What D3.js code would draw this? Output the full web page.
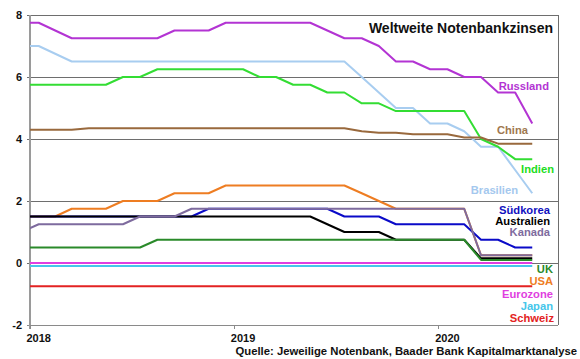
<!DOCTYPE html>
<html><head><meta charset="utf-8">
<script src="https://cdn.jsdelivr.net/npm/d3@7"></script>
<style>
body{margin:0;background:#fff}
svg{display:block;font-family:"Liberation Sans",Arial,sans-serif;font-weight:bold}
</style>
</head><body>
<svg id="c" width="580" height="359"></svg>
<script>
// ---- data (month-end values, Dec 2017 .. Jun 2020) ----
const months = ["2017-12","2018-01","2018-02","2018-03","2018-04","2018-05","2018-06","2018-07","2018-08","2018-09","2018-10","2018-11",
  "2018-12","2019-01","2019-02","2019-03","2019-04","2019-05","2019-06","2019-07","2019-08","2019-09","2019-10","2019-11",
  "2019-12","2020-01","2020-02","2020-03","2020-04","2020-05","2020-06"];
const russland  = [7.75,7.75,7.5,7.25,7.25,7.25,7.25,7.25,7.25,7.5,7.5,7.5,7.75,7.75,7.75,7.75,7.75,7.75,7.5,7.25,7.25,7.0,6.5,6.5,6.25,6.25,6.0,6.0,5.5,5.5,4.5];
const brasilien = [7.0,7.0,6.75,6.5,6.5,6.5,6.5,6.5,6.5,6.5,6.5,6.5,6.5,6.5,6.5,6.5,6.5,6.5,6.5,6.5,6.0,5.5,5.0,5.0,4.5,4.5,4.25,3.75,3.75,3.0,2.25];
const indien    = [5.75,5.75,5.75,5.75,5.75,5.75,6.0,6.0,6.25,6.25,6.25,6.25,6.25,6.25,6.0,6.0,5.75,5.75,5.5,5.5,5.15,5.15,4.9,4.9,4.9,4.9,4.9,4.0,3.75,3.35,3.35];
const china     = [4.3,4.3,4.3,4.3,4.35,4.35,4.35,4.35,4.35,4.35,4.35,4.35,4.35,4.35,4.35,4.35,4.35,4.35,4.35,4.35,4.25,4.2,4.2,4.15,4.15,4.15,4.05,4.05,3.85,3.85,3.85];
const usa       = [1.5,1.5,1.5,1.75,1.75,1.75,2.0,2.0,2.0,2.25,2.25,2.25,2.5,2.5,2.5,2.5,2.5,2.5,2.5,2.5,2.25,2.0,1.75,1.75,1.75,1.75,1.75,0.25,0.25,0.25,0.25];
const suedkorea = [1.5,1.5,1.5,1.5,1.5,1.5,1.5,1.5,1.5,1.5,1.5,1.75,1.75,1.75,1.75,1.75,1.75,1.75,1.75,1.5,1.5,1.5,1.25,1.25,1.25,1.25,1.25,0.75,0.75,0.5,0.5];
const australien= [1.5,1.5,1.5,1.5,1.5,1.5,1.5,1.5,1.5,1.5,1.5,1.5,1.5,1.5,1.5,1.5,1.5,1.5,1.25,1.0,1.0,1.0,0.75,0.75,0.75,0.75,0.75,0.15,0.15,0.15,0.15];
const kanada    = [1.0,1.25,1.25,1.25,1.25,1.25,1.25,1.5,1.5,1.5,1.75,1.75,1.75,1.75,1.75,1.75,1.75,1.75,1.75,1.75,1.75,1.75,1.75,1.75,1.75,1.75,1.75,0.25,0.25,0.25,0.25];
const uk        = [0.5,0.5,0.5,0.5,0.5,0.5,0.5,0.5,0.75,0.75,0.75,0.75,0.75,0.75,0.75,0.75,0.75,0.75,0.75,0.75,0.75,0.75,0.75,0.75,0.75,0.75,0.75,0.1,0.1,0.1,0.1];
const schweiz   = months.map(() => -0.75);
const japan     = months.map(() => -0.1);
const eurozone  = months.map(() => 0);
const yTicks = [-2,0,2,4,6,8];
const xTickYears = ["2018","2019","2020"];
const title = "Weltweite Notenbankzinsen";
const source = "Quelle: Jeweilige Notenbank, Baader Bank Kapitalmarktanalyse";

// ---- series (draw order bottom -> top) ----
const series = [
  {name:"Russland",   values:russland,   color:"#b334d3"},
  {name:"Brasilien",  values:brasilien,  color:"#a8cdf0"},
  {name:"Indien",     values:indien,     color:"#33dd33"},
  {name:"China",      values:china,      color:"#99693d"},
  {name:"USA",        values:usa,        color:"#ee7d22"},
  {name:"Südkorea",   values:suedkorea,  color:"#0a0ac8"},
  {name:"Australien", values:australien, color:"#000000"},
  {name:"UK",         values:uk,         color:"#2a8a2a"},
  {name:"Kanada",     values:kanada,     color:"#7e6b9e"},
  {name:"Schweiz",    values:schweiz,    color:"#e32222"},
  {name:"Japan",      values:japan,      color:"#45c6ea"},
  {name:"Eurozone",   values:eurozone,   color:"#e03ee0"}
];

// ---- label layout (pixel positions of legend-like labels) ----
const labelLayout = {
  "Russland":[549,89.5,"#b334d3"], "China":[528,134,"#a07850"], "Indien":[554,173.3,"#22dd22"],
  "Brasilien":[518,194,"#a4c8ee"], "Südkorea":[550,213.5,"#1010c0"], "Australien":[550,224.5,"#000"],
  "Kanada":[550,235.5,"#7e6b9e"], "UK":[553,273.3,"#2a8a2a"], "USA":[553,285,"#ee7d22"],
  "Eurozone":[553,298.3,"#e03ee0"], "Japan":[553,309.5,"#45c6ea"], "Schweiz":[554,321.7,"#e32222"]
};

const svg = d3.select("#c");
const L = 30, R = 558, T = 15, B = 325;
const parse = d3.timeParse("%Y-%m");
const x = d3.scaleTime().domain([new Date(2018,0,1), new Date(2020,7,1)]).range([L, R]);
const y = d3.scaleLinear().domain([-2, 8]).range([B, T]);
const mid = s => { const a = parse(s), b = d3.timeMonth.offset(a, 1); return new Date((+a + +b) / 2); };
const dates = months.map(mid);

svg.append("defs").append("clipPath").attr("id","clip")
  .append("rect").attr("x", L).attr("y", 0).attr("width", R - L).attr("height", 359);

// grid lines
svg.append("g").selectAll("line").data(yTicks).join("line")
  .attr("x1", L - 3).attr("x2", R).attr("y1", d => y(d)).attr("y2", d => y(d))
  .attr("stroke", d => d === -2 ? "#8a8a8a" : "#6e6e6e").attr("stroke-width", 1).attr("shape-rendering","crispEdges");
// right frame
svg.append("line").attr("x1", R).attr("x2", R).attr("y1", T).attr("y2", B)
  .attr("stroke", "#6e6e6e").attr("shape-rendering","crispEdges");
// y axis line
svg.append("line").attr("x1", L).attr("x2", L).attr("y1", T).attr("y2", B + 4)
  .attr("stroke", "#9a9a9a").attr("stroke-width", 1.2).attr("shape-rendering","crispEdges");

// x ticks + labels
const yearDates = xTickYears.map(s => new Date(+s, 0, 1));
svg.append("g").selectAll("line").data(yearDates).join("line")
  .attr("x1", d => x(d)).attr("x2", d => x(d)).attr("y1", B).attr("y2", B + 4)
  .attr("stroke", "#8a8a8a").attr("shape-rendering","crispEdges");
svg.append("g").selectAll("text").data(xTickYears).join("text")
  .attr("x", s => x(mid(s + "-01"))).attr("y", 341.5)
  .attr("text-anchor","middle").attr("font-size", 11).attr("fill","#111").text(s => s);

// y labels
svg.append("g").selectAll("text").data(yTicks).join("text")
  .attr("x", 22).attr("y", d => y(d) + 4)
  .attr("text-anchor","end").attr("font-size", 11).attr("fill","#111").text(d => d);

// lines
const line = d3.line().x((d,i) => x(dates[i])).y(d => y(d));
svg.append("g").attr("clip-path","url(#clip)").selectAll("path").data(series).join("path")
  .attr("d", s => line(s.values)).attr("fill","none")
  .attr("stroke", s => s.color).attr("stroke-width", 2).attr("stroke-linejoin","round");

// series labels
svg.append("g").selectAll("text").data(series).join("text")
  .attr("x", s => labelLayout[s.name][0]).attr("y", s => labelLayout[s.name][1])
  .attr("text-anchor","end").attr("font-size", 11.2).attr("fill", s => labelLayout[s.name][2])
  .text(s => s.name);

// title
svg.append("text").attr("x", 553).attr("y", 33).attr("text-anchor","end")
  .attr("font-size", 14).attr("fill","#111").text(title);
// source
svg.append("text").attr("x", 577).attr("y", 355).attr("text-anchor","end")
  .attr("font-size", 11.3).attr("fill","#111").text(source);
</script>
</body></html>
